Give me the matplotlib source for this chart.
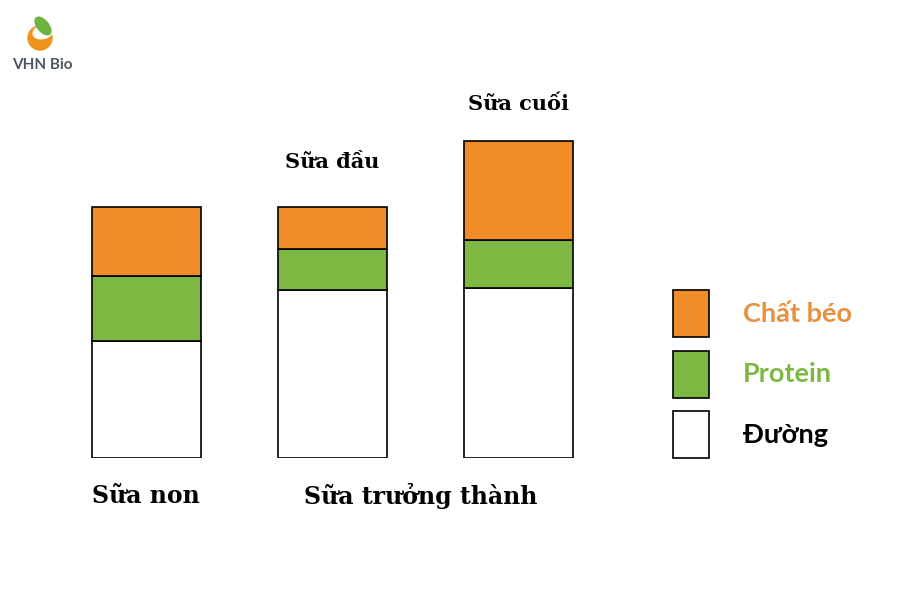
import matplotlib
matplotlib.use("Agg")
import matplotlib.pyplot as plt
from matplotlib.patches import Ellipse, Circle

# data (bar segment heights)
milk_types = ["Sữa non", "Sữa đầu", "Sữa cuối"]
duong = [117, 168, 170]
protein = [65, 41, 48]
chat_beo = [69, 42, 99]

legend_labels = ["Chất béo", "Protein", "Đường"]
orange = "#EF8C27"
green = "#7DB843"

serif = ["DejaVu Serif"]
sans = ["Lato", "DejaVu Sans"]

fig = plt.figure(figsize=(9, 6), dpi=100)
fig.patch.set_facecolor("white")

# bars axes: data units chosen = pixels
ax = fig.add_axes([53.5 / 900, 142 / 600, 558 / 900, 400 / 600])
ax.set_xlim(-0.5, 2.5)
ax.set_ylim(0, 400)
ax.axis("off")

x = range(len(milk_types))
w = 109 / 186
kw = dict(width=w, edgecolor="black", linewidth=1.2)
ax.bar(x, duong, color="white", **kw)
ax.bar(x, protein, bottom=duong, color=green, **kw)
b3 = [d + p for d, p in zip(duong, protein)]
ax.bar(x, chat_beo, bottom=b3, color=orange, **kw)

# labels above bars 2 and 3
label_gap = {1: 39, 2: 31}
for i, gap in label_gap.items():
    top = duong[i] + protein[i] + chat_beo[i]
    ax.text(i, top + gap, milk_types[i], ha="center", va="baseline",
            fontsize=15, fontweight="bold", family=serif)

# bottom labels
fig.text(146 / 900, 1 - 496 / 600, milk_types[0], ha="center", va="center",
         fontsize=17, fontweight="bold", family=serif)
fig.text(421 / 900, 1 - 496 / 600, "Sữa trưởng thành", ha="center", va="center",
         fontsize=17, fontweight="bold", family=serif)

# legend
lax = fig.add_axes([0, 0, 1, 1], facecolor="none")
lax.set_xlim(0, 900)
lax.set_ylim(600, 0)
lax.axis("off")
leg_colors = [orange, green, "white"]
text_colors = ["#E8913F", green, "black"]
for k, (lab, c, tc) in enumerate(zip(legend_labels, leg_colors, text_colors)):
    y0 = 290 + k * 60.5
    lax.bar(691, 47, bottom=y0, width=36, color=c, edgecolor="black", linewidth=1.2)
    lax.text(743, y0 + 24, lab, color=tc, fontsize=19.5, fontweight="bold",
             family=sans, va="center", ha="left")

# logo
lax.add_patch(Circle((40, 38), 12, color="#F0931F"))
lax.add_patch(Ellipse((43, 32), 20, 13, angle=-15, color="white"))
lax.add_patch(Ellipse((43, 26), 11, 21, angle=-40, color="#6DB33F"))
lax.text(42, 65, "VHN Bio", color="#4D5561", fontsize=11, fontweight="bold",
         family=sans, ha="center", va="center")

fig.savefig("out.png", dpi=100)
